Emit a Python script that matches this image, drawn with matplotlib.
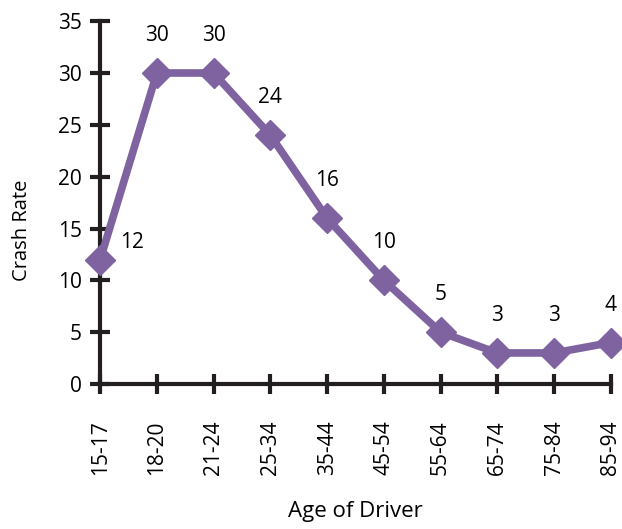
import matplotlib.pyplot as plt

ages = ['15-17', '18-20', '21-24', '25-34', '35-44', '45-54', '55-64', '65-74', '75-84', '85-94']
crash_rate = [12, 30, 30, 24, 16, 10, 5, 3, 3, 4]
yticks = [0, 5, 10, 15, 20, 25, 30, 35]

plt.rcParams['font.family'] = ['Open Sans', 'DejaVu Sans']

fig = plt.figure(figsize=(6.22, 5.29), dpi=100)
ax = fig.add_axes([0.161, 0.274, 0.821, 0.686])

purple = '#7f62a0'
x = list(range(len(ages)))
ax.plot(x, crash_rate, color=purple, linewidth=5.5, marker='D', markersize=15,
        markeredgecolor=purple, solid_joinstyle='miter', clip_on=False, zorder=3)

for i, v in enumerate(crash_rate):
    if i == 0:
        ax.annotate(str(v), (i, v), xytext=(14, 12), textcoords='offset points',
                    ha='left', va='center', fontsize=15)
    else:
        ax.annotate(str(v), (i, v), xytext=(0, 27), textcoords='offset points',
                    ha='center', va='center', fontsize=15)

ax.set_xlim(0, len(ages) - 1)
ax.set_ylim(0, 35)
ax.set_xticks(x)
ax.set_xticklabels(ages, rotation=90, fontsize=15)
ax.set_yticks(yticks)
ax.set_yticklabels([str(t) for t in yticks], fontsize=15)

for s in ['top', 'right']:
    ax.spines[s].set_visible(False)
for s in ['left', 'bottom']:
    ax.spines[s].set_linewidth(3)
    ax.spines[s].set_color('#231f20')
ax.tick_params(direction='inout', length=14, width=3, color='#231f20', pad=6)
ax.tick_params(axis='x', pad=19)

ax.set_ylabel('Crash Rate', fontsize=14.5)
ax.yaxis.set_label_coords(-0.134, 0.424)
ax.set_xlabel('Age of Driver', fontsize=16, labelpad=19)

fig.savefig('out.png', dpi=100)
